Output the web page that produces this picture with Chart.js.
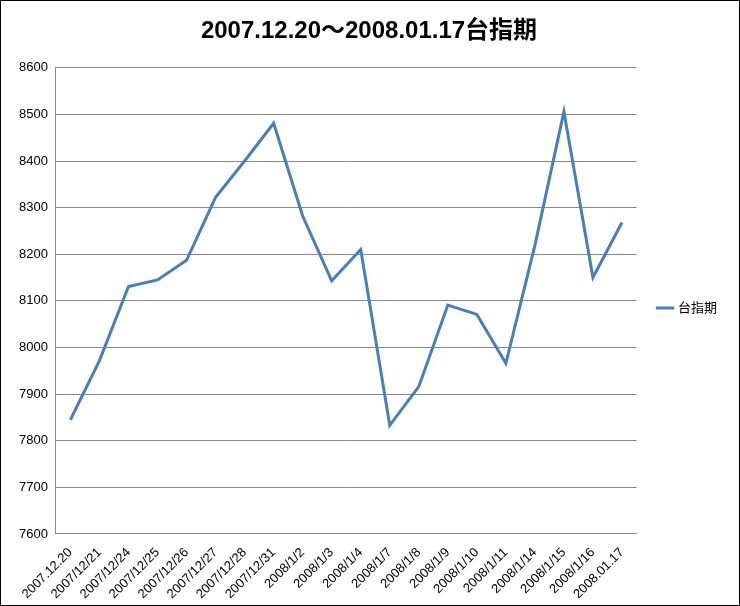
<!DOCTYPE html>
<html>
<head>
<meta charset="utf-8">
<script src="https://cdn.jsdelivr.net/npm/chart.js@4/dist/chart.umd.min.js"></script>
<style>
  html, body { margin: 0; padding: 0; background: #fff; }
  #wrap { width: 738px; height: 604px; border: 1px solid #000; }
</style>
</head>
<body>
<div id="wrap"><canvas id="c" width="738" height="604"></canvas></div>
<script>
// dates and index values
const labels = ['2007.12.20', '2007/12/21', '2007/12/24', '2007/12/25', '2007/12/26', '2007/12/27',
  '2007/12/28', '2007/12/31', '2008/1/2', '2008/1/3', '2008/1/4', '2008/1/7', '2008/1/8',
  '2008/1/9', '2008/1/10', '2008/1/11', '2008/1/14', '2008/1/15', '2008/1/16', '2008.01.17'];
const values = [7845, 7972, 8131, 8145, 8187, 8322, 8400, 8481, 8282, 8143, 8210, 7833, 7916,
  8091, 8071, 7966, 8219, 8506, 8150, 8268];
const seriesName = '台指期';

const font = "'Liberation Sans', 'Noto Sans CJK TC', sans-serif";

new Chart(document.getElementById('c'), {
  type: 'line',
  data: {
    labels: labels,
    datasets: [{
      label: seriesName,
      data: values,
      borderColor: '#4a7ebb',
      backgroundColor: '#4a7ebb',
      borderWidth: 3,
      pointRadius: 0,
      tension: 0
    }]
  },
  options: {
    responsive: false,
    animation: false,
    layout: { padding: { left: 10, right: 12, top: 10, bottom: 0 } },
    plugins: {
      title: {
        display: true,
        text: '2007.12.20～2008.01.17台指期',
        color: '#000',
        font: { family: font, size: 24, weight: 'bold' },
        padding: { top: 6, bottom: 22 }
      },
      legend: {
        position: 'right',
        labels: {
          usePointStyle: true,
          pointStyle: 'line',
          boxWidth: 30,
          padding: 22,
          color: '#000',
          font: { family: font, size: 13 }
        }
      }
    },
    scales: {
      x: {
        offset: true,
        grid: { display: false },
        border: { color: '#888' },
        ticks: { maxRotation: 45, minRotation: 45, autoSkip: false, color: '#000', font: { family: font, size: 13 } }
      },
      y: {
        min: 7600,
        max: 8600,
        grid: { color: '#888', drawTicks: false },
        border: { color: '#888' },
        ticks: {
          stepSize: 100, padding: 8, color: '#000', font: { family: font, size: 13 },
          callback: v => String(v)
        }
      }
    }
  }
});
</script>
</body>
</html>
